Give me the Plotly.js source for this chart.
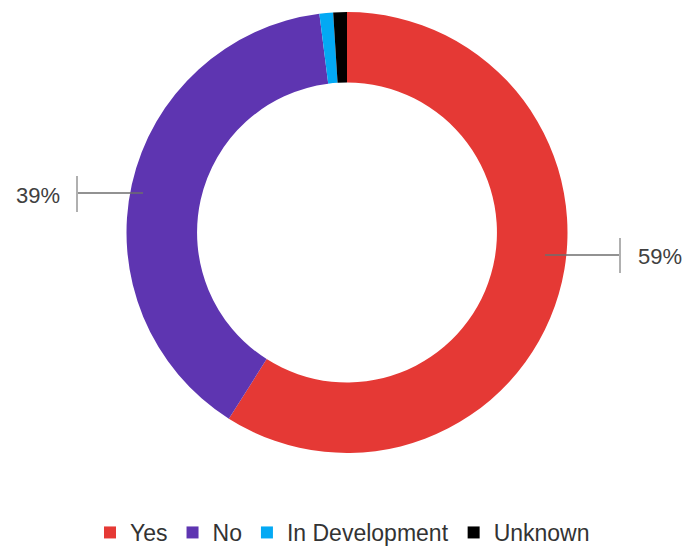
<!DOCTYPE html>
<html>
<head>
<meta charset="utf-8">
<script src="https://cdn.plot.ly/plotly-3.0.1.min.js"></script>
<style>html,body{margin:0;padding:0;background:#fff;overflow:hidden;}#chart{width:685px;height:554px;}</style>
</head>
<body>
<div id="chart"></div>
<script>
const categories = ["Yes", "No", "In Development", "Unknown"];
const shares = [59, 39, 1, 1];
const colors = ["#E53935", "#5E35B1", "#03A9F4", "#000000"];
const shownLabels = ["59%", "39%", "", ""];

const W = 685, H = 554;
const px = x => x / W;
const py = y => 1 - y / H;

const trace = {
  type: "pie",
  labels: categories,
  values: shares,
  marker: {colors: colors, line: {width: 0}},
  hole: 0.68,
  sort: false,
  direction: "clockwise",
  rotation: 0,
  textinfo: "none",
  hoverinfo: "label+percent",
  domain: {x: [px(126.5), px(567.5)], y: [py(453), py(12)]}
};

const lineCol = "#6e6e6e";
const tickCol = "#b0b0b0";
const shapes = [
  {type: "line", xref: "paper", yref: "paper", x0: px(545), x1: px(620), y0: py(255), y1: py(255), line: {color: lineCol, width: 1.3}},
  {type: "line", xref: "paper", yref: "paper", x0: px(620), x1: px(620), y0: py(238), y1: py(273), line: {color: tickCol, width: 2}},
  {type: "line", xref: "paper", yref: "paper", x0: px(143), x1: px(77), y0: py(193), y1: py(193), line: {color: lineCol, width: 1.3}},
  {type: "line", xref: "paper", yref: "paper", x0: px(77), x1: px(77), y0: py(176), y1: py(212), line: {color: tickCol, width: 2}}
];

const labelFont = {family: "Liberation Sans, Arial, sans-serif", size: 22, color: "#404040"};
const annotations = [
  {xref: "paper", yref: "paper", x: px(636), y: py(257), xanchor: "left", yanchor: "middle", text: shownLabels[0], showarrow: false, font: labelFont},
  {xref: "paper", yref: "paper", x: px(62), y: py(196), xanchor: "right", yanchor: "middle", text: shownLabels[1], showarrow: false, font: labelFont}
];

const layout = {
  width: W, height: H,
  margin: {l: 0, r: 0, t: 0, b: 0},
  paper_bgcolor: "#ffffff",
  showlegend: true,
  legend: {
    orientation: "h", x: 0.5, xanchor: "center", y: 0, yanchor: "bottom",
    font: {family: "Liberation Sans, Arial, sans-serif", size: 23, color: "#333333"},
    itemwidth: 30, traceorder: "normal", itemclick: false
  },
  shapes: shapes,
  annotations: annotations
};

Plotly.newPlot("chart", [trace], layout, {displayModeBar: false, staticPlot: true});
</script>
</body>
</html>
